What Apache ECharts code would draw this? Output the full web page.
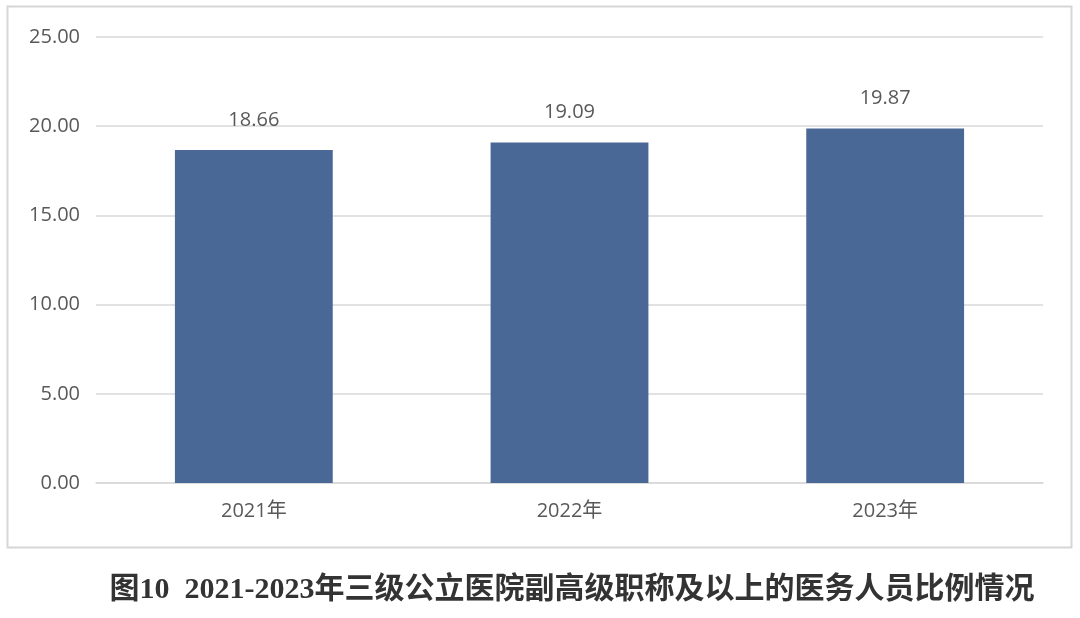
<!DOCTYPE html>
<html>
<head>
<meta charset="utf-8">
<script src="https://cdn.jsdelivr.net/npm/echarts@6/dist/echarts.min.js"></script>
<style>
html,body{margin:0;padding:0;background:#fff;}
#c{width:1080px;height:618px;}
</style>
</head>
<body>
<div id="c"></div>
<script>
const categories = ['2021年', '2022年', '2023年'];
const values = [18.66, 19.09, 19.87];
const yTicks = { min: 0, max: 25, interval: 5 };
const caption = '图10  2021-2023年三级公立医院副高级职称及以上的医务人员比例情况';

const chart = echarts.init(document.getElementById('c'));
const labelFont = '"Open Sans", "Noto Sans CJK SC", sans-serif';
chart.setOption({
  animation: false,
  backgroundColor: '#fff',
  grid: { left: 96, right: 37, top: 37, bottom: 135, containLabel: false },
  xAxis: {
    type: 'category',
    data: categories,
    axisLine: { show: true, lineStyle: { color: '#d9d9d9', width: 1.5 } },
    axisTick: { show: false },
    axisLabel: { color: '#595959', fontSize: 20, margin: 18, fontFamily: labelFont }
  },
  yAxis: {
    type: 'value',
    min: yTicks.min, max: yTicks.max, interval: yTicks.interval,
    axisLine: { show: false },
    axisTick: { show: false },
    splitLine: { lineStyle: { color: '#d9d9d9', width: 1.5 } },
    axisLabel: { color: '#595959', fontSize: 20, margin: 16, fontFamily: labelFont,
      formatter: v => v.toFixed(2) }
  },
  series: [{
    type: 'bar',
    data: values,
    barWidth: '50%',
    itemStyle: { color: '#4a6896' },
    label: {
      show: true, position: 'top', distance: 20,
      color: '#595959', fontSize: 20, fontFamily: labelFont,
      formatter: p => p.value.toFixed(2)
    }
  }],
  graphic: [
    { type: 'rect', shape: { x: 7.5, y: 6.5, width: 1064, height: 541 },
      style: { fill: 'none', stroke: '#d6d6d6', lineWidth: 2 }, silent: true },
    { type: 'text', x: 572, y: 590,
      style: { text: caption, fill: '#333333', fontSize: 30, fontWeight: 'bold',
        fontFamily: '"Liberation Serif", "Noto Sans CJK SC", serif',
        textAlign: 'center', textVerticalAlign: 'middle' } }
  ]
});
</script>
</body>
</html>
